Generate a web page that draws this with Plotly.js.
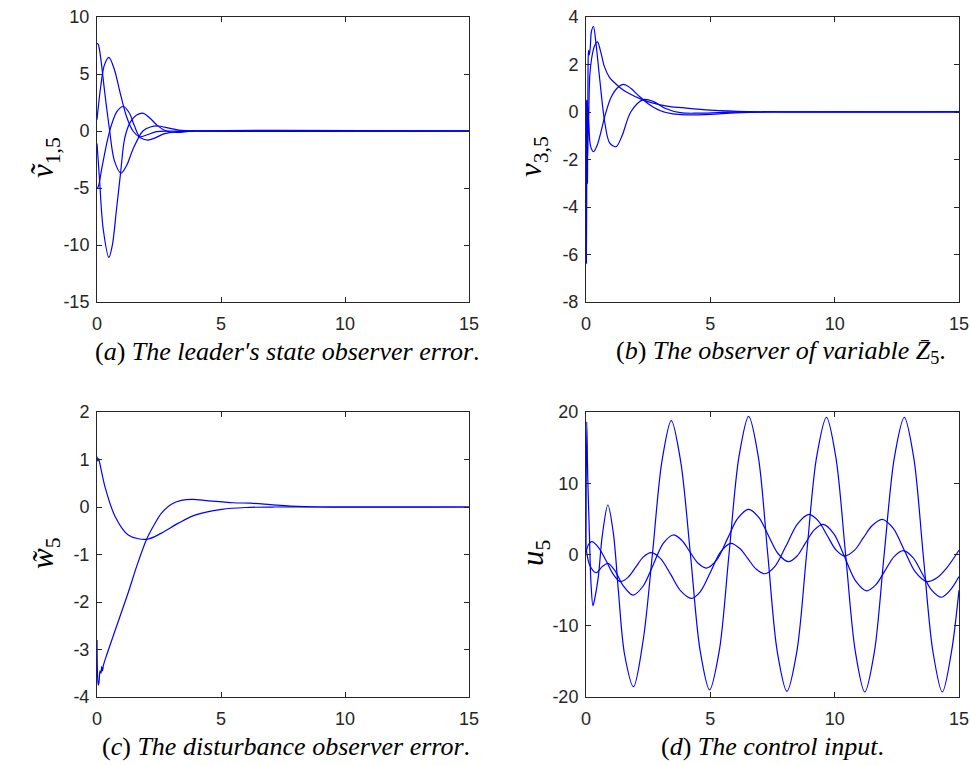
<!DOCTYPE html>
<html>
<head>
<meta charset="utf-8">
<script src="https://cdn.plot.ly/plotly-3.0.1.min.js"></script>
<style>body{margin:0;padding:0;background:#fff}#chart{width:970px;height:765px}</style>
</head>
<body>
<div id="chart"></div>
<script>
// ---------- Panel (a): leader's state observer error v~_{1,5} ----------
const aT1 = [0, 0.05, 0.15, 0.3, 0.5, 0.7, 0.97, 1.2, 1.45, 1.85, 2.15, 2.47, 2.8, 3.3, 4.0, 15];
const aV1 = [7.7, 7.6, 6.4, 3.6, 0.2, -2.6, -3.7, -3.0, -1.6, 0.0, 0.35, 0.44, 0.3, 0.08, 0, 0];
const aT2 = [0, 0.15, 0.3, 0.48, 0.7, 0.95, 1.2, 1.45, 1.75, 2.05, 2.35, 2.7, 3.2, 4.0, 15];
const aV2 = [1.0, 3.9, 5.8, 6.46, 5.4, 3.2, 1.2, 0.0, -0.6, -0.8, -0.6, -0.25, -0.05, 0, 0];
const aT3 = [0, 0.1, 0.25, 0.48, 0.62, 0.78, 0.95, 1.12, 1.35, 1.6, 1.87, 2.15, 2.45, 2.8, 3.2, 4.0, 15];
const aV3 = [-1.1, -4.2, -8.6, -11.08, -10.0, -7.0, -3.7, -0.6, 0.8, 1.4, 1.55, 1.1, 0.45, 0.0, -0.12, 0, 0];
const aT4 = [0, 0.05, 0.2, 0.39, 0.55, 0.8, 1.06, 1.3, 1.5, 1.73, 2.0, 2.4, 3.0, 15];
const aV4 = [-5.03, -4.9, -3.2, -1.1, 0.3, 1.7, 2.15, 1.6, 0.5, -0.5, -0.35, -0.05, 0, 0];

// ---------- Panel (b): observer of variable Z_5, v_{3,5} ----------
const bT1 = [0, 0.02, 0.04, 0.06, 0.08, 0.1, 0.13, 0.17, 0.22, 0.3, 0.4, 0.55, 0.75, 0.95, 1.21, 1.45, 1.8, 2.3, 2.7, 3.2, 3.8, 4.5, 5.5, 7, 15];
const bV1 = [0, -6.4, 0.5, -3.0, 1.5, 2.6, 2.4, 2.7, 3.4, 3.6, 2.9, 1.4, -0.4, -1.3, -1.46, -1.0, 0.0, 0.52, 0.45, 0.15, -0.03, -0.05, -0.02, 0, 0];
const bT2 = [0, 0.03, 0.06, 0.1, 0.15, 0.25, 0.35, 0.46, 0.6, 0.74, 0.95, 1.17, 1.4, 1.64, 2.31, 3.25, 3.9, 5.0, 6.5, 15];
const bV2 = [0, -3.0, 0.3, -0.5, 1.5, 2.4, 2.8, 2.95, 2.5, 1.91, 1.45, 1.21, 1.0, 0.83, 0.5, 0.25, 0.18, 0.08, 0.02, 0.02];
const bT3 = [0, 0.03, 0.06, 0.1, 0.15, 0.2, 0.3, 0.45, 0.77, 1.0, 1.25, 1.51, 1.8, 2.1, 2.5, 3.0, 3.5, 4.0, 5.0, 6.0, 7.5, 15];
const bV3 = [0, 0.5, -2.0, -0.2, -1.2, -1.5, -1.67, -1.4, -0.13, 0.6, 1.0, 1.16, 1.0, 0.7, 0.35, 0.05, -0.08, -0.12, -0.1, -0.04, 0, 0];

// ---------- Panel (c): disturbance observer error w~_5 ----------
const cT1 = [0, 0.03, 0.06, 0.1, 0.32, 0.73, 1.26, 2.0, 2.6, 3.28, 3.95, 5.03, 6.0, 7.2, 8.5, 10, 15];
const cV1 = [1.06, 0.97, 1.02, 0.95, 0.43, -0.2, -0.59, -0.68, -0.55, -0.34, -0.17, -0.05, -0.01, 0.0, 0, 0, 0];
const cT2 = [0, 0.02, 0.05, 0.08, 0.12, 0.16, 0.19, 0.22, 0.26, 0.4, 0.73, 1.26, 1.6, 2.0, 2.3, 2.6, 3.0, 3.4, 3.85, 4.5, 5.5, 6.2, 7.0, 7.8, 9, 15];
const cV2 = [-2.8, -3.5, -3.75, -3.7, -3.45, -3.5, -3.36, -3.45, -3.33, -3.1, -2.6, -1.8, -1.25, -0.68, -0.38, -0.13, 0.06, 0.14, 0.16, 0.13, 0.09, 0.08, 0.05, 0.02, 0, 0];

// ---------- Panel (d): control input u_5 ----------
const dT1 = [0, 0.03, 0.07, 0.14, 0.2, 0.28, 0.34, 0.5, 0.65, 0.88, 1.1, 1.3, 1.55, 1.91, 2.3, 2.67, 3.05, 3.43, 3.81, 4.2, 4.59, 4.97, 5.36, 5.75, 6.15, 6.54, 6.93, 7.31, 7.69, 8.08, 8.48, 8.87, 9.27, 9.67, 10.05, 10.44, 10.83, 11.21, 11.6, 11.99, 12.4, 12.8, 13.18, 13.56, 13.95, 14.33, 14.7, 15];
const dV1 = [1, 18.6, 10.9, 2.5, -4, -7.2, -6.4, -3, 2.5, 6.95, 3, -5, -14, -18.55, -12, 0, 13, 18.8, 13, 0, -13.5, -19, -13.5, 0, 13.7, 19.4, 13.7, 0, -13.6, -19.2, -13.6, 0, 13.6, 19.25, 13.6, 0, -13.6, -19.3, -13.6, 0, 13.6, 19.25, 13.6, 0, -13.6, -19.3, -13.6, -5];
const dT2 = [0, 0.1, 0.23, 0.5, 0.8, 1.1, 1.38, 1.7, 2.0, 2.3, 2.62, 3.0, 3.4, 3.8, 4.24, 4.6, 5.0, 5.4, 5.82, 6.2, 6.5, 6.85, 7.19, 7.6, 8.05, 8.5, 8.97, 9.35, 9.7, 10.05, 10.41, 10.8, 11.15, 11.5, 11.91, 12.35, 12.8, 13.25, 13.7, 14.1, 14.5, 15];
const dV2 = [0.3, 1.4, 1.8, 1.0, -0.8, -2.8, -3.8, -3.17, -1.77, -0.37, 0.26, -0.57, -2.75, -5.06, -6.15, -5.2, -2.52, 0.3, 1.57, 0.81, -0.54, -2.08, -2.7, -1.66, 1.25, 4.28, 5.64, 4.69, 2.66, 0.66, -0.2, 0.61, 2.32, 4.04, 4.94, 3.7, 0.61, -2.49, -3.8, -3.3, -1.9, 0.6];
const dT3 = [0, 0.15, 0.41, 0.65, 0.88, 1.15, 1.5, 1.89, 2.3, 2.7, 3.1, 3.5, 3.85, 4.17, 4.5, 4.84, 5.25, 5.7, 6.1, 6.54, 6.95, 7.33, 7.72, 8.13, 8.48, 8.83, 9.18, 9.54, 9.97, 10.4, 10.85, 11.28, 11.65, 12.02, 12.39, 12.76, 13.15, 13.53, 13.9, 14.3, 14.65, 15];
const dV3 = [1.0, -1.5, -2.55, -1.7, -1.24, -2.2, -4.4, -5.7, -4.42, -1.46, 1.52, 2.74, 2.0, 0.42, -1.2, -1.9, -0.78, 2.3, 5.06, 6.34, 5.2, 2.7, 0.14, -1.0, -0.24, 1.63, 3.45, 4.23, 2.89, -0.35, -3.75, -5.1, -4.27, -2.29, -0.29, 0.53, -0.45, -2.73, -4.99, -6.0, -5.0, -3.1];

const xTicks = [0, 5, 10, 15];
const aTicks = [-15, -10, -5, 0, 5, 10];
const bTicks = [-8, -6, -4, -2, 0, 2, 4];
const cTicks = [-4, -3, -2, -1, 0, 1, 2];
const dTicks = [-20, -10, 0, 10, 20];

const blue = '#0000ff';
function tr(x, y, xa, ya) {
  return {x: x, y: y, xaxis: xa, yaxis: ya, type: 'scatter', mode: 'lines',
          line: {color: blue, width: 1.2, shape: 'spline', smoothing: 0.9},
          hoverinfo: 'skip', showlegend: false};
}
const traces = [
  tr(aT1, aV1, 'x', 'y'), tr(aT2, aV2, 'x', 'y'), tr(aT3, aV3, 'x', 'y'), tr(aT4, aV4, 'x', 'y'),
  tr(bT1, bV1, 'x2', 'y2'), tr(bT2, bV2, 'x2', 'y2'), tr(bT3, bV3, 'x2', 'y2'),
  tr(cT1, cV1, 'x3', 'y3'), tr(cT2, cV2, 'x3', 'y3'),
  tr(dT1, dV1, 'x4', 'y4'), tr(dT2, dV2, 'x4', 'y4'), tr(dT3, dV3, 'x4', 'y4')
];

const tickFont = {family: 'Liberation Sans, Arial, sans-serif', size: 18, color: '#262626'};
function xa(dom, anchor) {
  return {domain: dom, anchor: anchor, range: [0, 15], tickvals: xTicks, ticktext: xTicks.map(String),
          showgrid: false, zeroline: false, showline: true, mirror: 'ticks', linecolor: '#262626', linewidth: 1,
          ticks: 'inside', ticklen: 5, tickwidth: 1, tickcolor: '#262626', tickfont: tickFont,
          ticklabelstandoff: 5, fixedrange: true};
}
function ya(dom, anchor, rng, tv) {
  return {domain: dom, anchor: anchor, range: rng, tickvals: tv, ticktext: tv.map(String),
          showgrid: false, zeroline: false, showline: true, mirror: 'ticks', linecolor: '#262626', linewidth: 1,
          ticks: 'inside', ticklen: 5, tickwidth: 1, tickcolor: '#262626', tickfont: tickFont,
          ticklabelstandoff: 3, fixedrange: true};
}
const W = 970, H = 765;
const xL = [97 / W, 469 / W], xR = [586 / W, 959 / W];
const yT = [1 - 302 / H, 1 - 17 / H], yB = [1 - 697 / H, 1 - 412 / H];

const mathFont = {family: 'Liberation Serif, DejaVu Serif, serif', size: 31, color: '#000'};
const capFont = {family: 'Liberation Serif, DejaVu Serif, serif', size: 26, color: '#000'};
function ylab(text, x, y) {
  return {text: text, x: x, y: y, xref: 'paper', yref: 'paper', xanchor: 'center', yanchor: 'middle',
          textangle: -90, showarrow: false, font: mathFont};
}
function cap(text, x, y) {
  return {text: text, x: x, y: y, xref: 'paper', yref: 'paper', xanchor: 'center', yanchor: 'middle',
          showarrow: false, font: capFont};
}
const annotations = [
  ylab('<i>ṽ</i><sub>1,5</sub>', 45 / W, 1 - 158 / H),
  ylab('<i>v</i><sub>3,5</sub>', 533 / W, 1 - 157 / H),
  ylab('<i>w̃</i><sub>5</sub>', 45 / W, 1 - 553 / H),
  ylab('<i>u</i><sub>5</sub>', 535 / W, 1 - 553 / H),
  cap('(<i>a</i>) <i>The leader′s state observer error</i>.', 287 / W, 1 - 352 / H),
  cap('(<i>b</i>) <i>The observer of variable Z̄</i><sub>5</sub>.', 781 / W, 1 - 352 / H),
  cap('(<i>c</i>) <i>The disturbance observer error</i>.', 286 / W, 1 - 746 / H),
  cap('(<i>d</i>) <i>The control input</i>.', 772 / W, 1 - 746 / H)
];

const layout = {
  width: W, height: H, margin: {l: 0, r: 0, t: 0, b: 0},
  paper_bgcolor: '#ffffff', plot_bgcolor: '#ffffff', showlegend: false,
  xaxis: xa(xL, 'y'), yaxis: ya(yT, 'x', [-15, 10], aTicks),
  xaxis2: xa(xR, 'y2'), yaxis2: ya(yT, 'x2', [-8, 4], bTicks),
  xaxis3: xa(xL, 'y3'), yaxis3: ya(yB, 'x3', [-4, 2], cTicks),
  xaxis4: xa(xR, 'y4'), yaxis4: ya(yB, 'x4', [-20, 20], dTicks),
  annotations: annotations
};
Plotly.newPlot('chart', traces, layout, {staticPlot: true, displayModeBar: false});
</script>
</body>
</html>
